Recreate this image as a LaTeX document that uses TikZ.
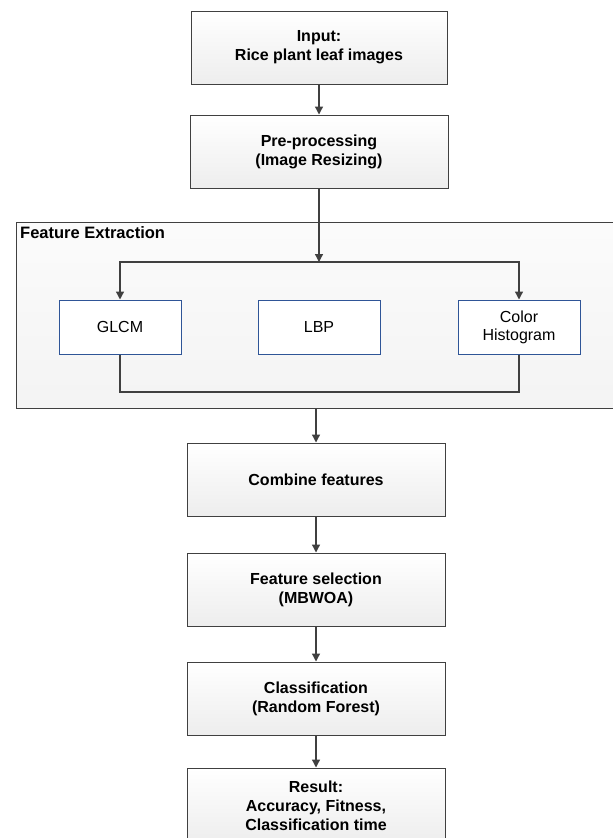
\documentclass[tikz,border=0pt]{standalone}
\usepackage{fontspec}
\setmainfont{Liberation Sans}
\usetikzlibrary{arrows.meta,shadings}
\definecolor{linegray}{HTML}{404040}
\definecolor{boxblue}{HTML}{2F5597}
\tikzset{
  stepbox/.style={draw=linegray, line width=1pt, top color=white, bottom color=gray!14,
    minimum width=258pt, minimum height=73pt, align=center,
    font=\fontsize{16}{19}\selectfont\bfseries, inner sep=2pt},
  featbox/.style={draw=boxblue, line width=1pt, fill=white,
    minimum width=122pt, minimum height=54pt, align=center,
    font=\fontsize{16}{18}\selectfont, inner sep=2pt},
  container/.style={draw=linegray, line width=1pt, top color=gray!3, bottom color=gray!9,
    minimum width=609pt, minimum height=186pt, inner sep=0pt},
  arrow/.style={draw=linegray, line width=1.3pt, -{Triangle[length=8pt,width=8pt]}},
  plainline/.style={draw=linegray, line width=1.3pt}
}
\begin{document}
\begin{tikzpicture}[x=1pt,y=-1pt]
\useasboundingbox (0,0) rectangle (613,838);
\clip (0,0) rectangle (613,838);
\fill[white] (0,0) rectangle (613,838);
\node[container] (fe) at (320.5,315) {};
\node[anchor=west, font=\fontsize{16.5}{18}\selectfont\bfseries, inner sep=0pt] (felabel) at (20,233) {Feature Extraction};
\node[stepbox, minimum width=256pt] (inp) at (319,47.5) {Input:\\Rice plant leaf images};
\node[stepbox] (pre) at (319,151.5) {Pre-processing\\(Image Resizing)};
\coordinate (br) at (319,262);
\node[featbox] (glcm) at (120,327) {GLCM};
\node[featbox] (lbp) at (319,327) {LBP};
\node[featbox] (col) at (519,327) {Color\\Histogram};
\coordinate (jl) at (120,392);
\node[stepbox] (comb) at (316,479.5) {Combine features};
\node[stepbox] (sel) at (316,589.5) {Feature selection\\(MBWOA)};
\node[stepbox] (cls) at (316,698.5) {Classification\\(Random Forest)};
\node[stepbox, minimum height=76pt] (res) at (316,806) {Result:\\Accuracy, Fitness,\\Classification time};
\draw[arrow] (inp) -- (pre);
\draw[arrow] (pre) -- (br);
\draw[arrow] (br) -| (glcm);
\draw[arrow] (br) -| (col);
\draw[plainline] (glcm.south) -- (jl) -| (col.south);
\draw[arrow] (fe.south -| comb.north) -- (comb);
\draw[arrow] (comb) -- (sel);
\draw[arrow] (sel) -- (cls);
\draw[arrow] (cls) -- (res);
\end{tikzpicture}
\end{document}
